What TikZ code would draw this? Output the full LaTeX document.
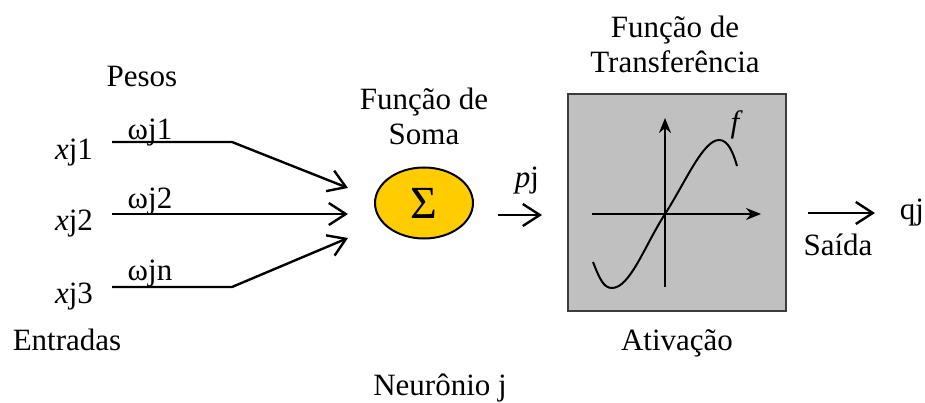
\documentclass[tikz,border=0pt]{standalone}
\usepackage{fontspec}
\setmainfont{Liberation Serif}
\usetikzlibrary{arrows.meta,shapes.geometric}
\begin{document}
\begin{tikzpicture}[x=1pt,y=-1pt,
  lbl/.style={font=\fontsize{31}{36}\selectfont, inner sep=0pt, anchor=base},
  wire/.style={line width=2.4pt, line join=miter},
  barb/.style={-{Straight Barb[length=17pt,width=22pt,line width=2.4pt]}},
  axis/.style={line width=2pt,-{Stealth[length=15pt,width=12pt]}}]
\useasboundingbox (0,0) rectangle (925,403);
% labels
\node[lbl] (pesos) at (142,87) {Pesos};
\node[lbl] (x1) at (74,160) {\textit{x}j1};
\node[lbl] (x2) at (74,230) {\textit{x}j2};
\node[lbl] (x3) at (74,303) {\textit{x}j3};
\node[lbl] (w1) at (150,140) {ωj1};
\node[lbl] (w2) at (150,208) {ωj2};
\node[lbl] (w3) at (150,280) {ωjn};
\node[lbl] (entr) at (67,350) {Entradas};
\node[lbl] (fs1) at (424,110) {Função de};
\node[lbl] (fs2) at (424,145) {Soma};
\node[lbl] (pj) at (527,188) {\textit{p}j};
\node[lbl] (ft1) at (675,38) {Função de};
\node[lbl] (ft2) at (675,73) {Transferência};
\node[lbl] (ativ) at (677,350) {Ativação};
\node[lbl] (saida) at (838,255) {Saída};
\node[lbl] (qj) at (912,220) {qj};
\node[lbl] (neur) at (440,395) {Neurônio j};
% inputs
\coordinate (s1) at (112,142); \coordinate (b1) at (232,142); \coordinate (e1) at (348,188);
\coordinate (s2) at (112,214); \coordinate (e2) at (348,214);
\coordinate (s3) at (112,287); \coordinate (b3) at (232,287); \coordinate (e3) at (348,238);
\draw[wire,barb] (s1) -- (b1) -- (e1);
\draw[wire,barb] (s2) -- (e2);
\draw[wire,barb] (s3) -- (b3) -- (e3);
% sum
\node[ellipse, draw=black, line width=2pt, fill={rgb,255:red,255;green,204;blue,0},
  minimum width=98pt, minimum height=71pt, inner sep=0pt,
  font=\fontsize{46}{50}\selectfont] (sum) at (424,203) {Σ};
\coordinate (pa) at (498,215); \coordinate (pb) at (542,215);
\draw[wire,barb] (pa) -- (pb);
% transfer box
\node[draw={rgb,255:red,60;green,60;blue,60}, line width=1.5pt, fill={rgb,255:red,192;green,192;blue,192},
  minimum width=218pt, minimum height=217pt, inner sep=0pt] (box) at (677,202.5) {};
\coordinate (yb) at (665,287); \coordinate (yt) at (665,118);
\coordinate (xl) at (592,214); \coordinate (xr) at (761,214);
\draw[axis] (yb) -- (yt);
\draw[axis] (xl) -- (xr);
\draw[line width=2pt] (593,262) .. controls (600,280) and (604,288) .. (612,288)
  .. controls (630,288) and (645,245) .. (665,214)
  .. controls (685,183) and (703,140) .. (719,140)
  .. controls (728,140) and (733,152) .. (737,166);
\node[lbl, anchor=center, font=\fontsize{31}{36}\selectfont\itshape] (f) at (735,125) {f};
% output
\coordinate (oa) at (808,213); \coordinate (ob) at (875,213);
\draw[wire,barb] (oa) -- (ob);
\end{tikzpicture}
\end{document}
